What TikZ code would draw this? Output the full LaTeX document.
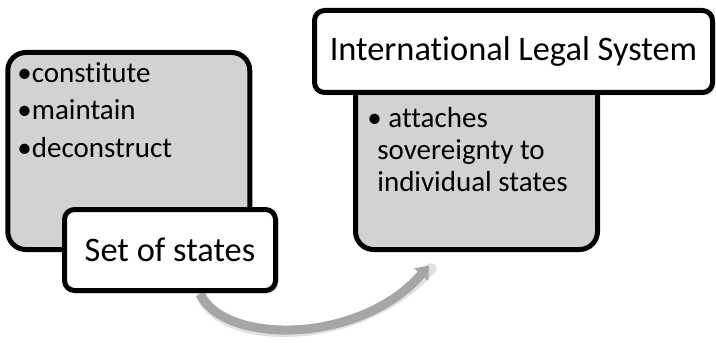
\documentclass[tikz,border=0pt]{standalone}
\usepackage{fontspec}
\setmainfont[Ligatures=CommonOff]{Carlito}
\usetikzlibrary{positioning,arrows.meta,shadows}

\begin{document}
\begin{tikzpicture}[x=0.5pt,y=-0.5pt,
        greybox/.style={draw=black,line width=2.5pt,fill=gray!35,rounded corners=9pt,minimum width=121pt,minimum height=98.5pt,inner sep=0pt},
        labelbox/.style={draw=black,line width=2.5pt,fill=white,rounded corners=5pt,inner sep=0pt,
            drop shadow={opacity=0.25,shadow xshift=1.5pt,shadow yshift=-1.5pt},font=\fontsize{17.2}{20}\selectfont},
        itemtext/.style={align=left,inner sep=0pt,anchor=north west,font=\fontsize{14.5}{18.75}\selectfont}]
        % Fix the page size
        \useasboundingbox (0,0) rectangle (716,342);
        % Draw the grey boxes
        \node[greybox] (statesbox) at (128.75,151) {};
        \node[greybox] (ilsbox) at (476.5,151) {};
        % Draw the items
        \node[itemtext] (statesitems) at (17,62) {%
            •constitute\\
            •maintain\\
            •deconstruct};
        \node[itemtext,font=\fontsize{14.5}{16}\selectfont] (ilsitems) at (367,107) {%
            • attaches\\
            \hspace*{5pt}sovereignty to\\
            \hspace*{5pt}individual states};
        % Draw the curved arrow
        \coordinate (tail) at ([xshift=35.6pt,yshift=-21pt]statesbox.south);
        \coordinate (tip) at ([xshift=-23.75pt,yshift=-6.75pt]ilsbox.south);
        \draw[black!12,line width=5.5pt,line cap=round] ([xshift=1pt,yshift=-1.5pt]tail)
            .. controls (226,347) and (361,347) .. ([xshift=1pt,yshift=-1.5pt]tip);
        \draw[black!35,line width=4.5pt,-{Triangle[length=6pt,width=9pt]}] (tail)
            .. controls (225,345) and (360,345) .. (tip);
        % Draw the white boxes
        \node[labelbox,minimum width=105.5pt,minimum height=40.5pt] (states) at (170,250) {Set of states};
        \node[labelbox,minimum width=199pt,minimum height=41pt] (ils) at (513.5,51.5) {International Legal System};
\end{tikzpicture}
\end{document}
